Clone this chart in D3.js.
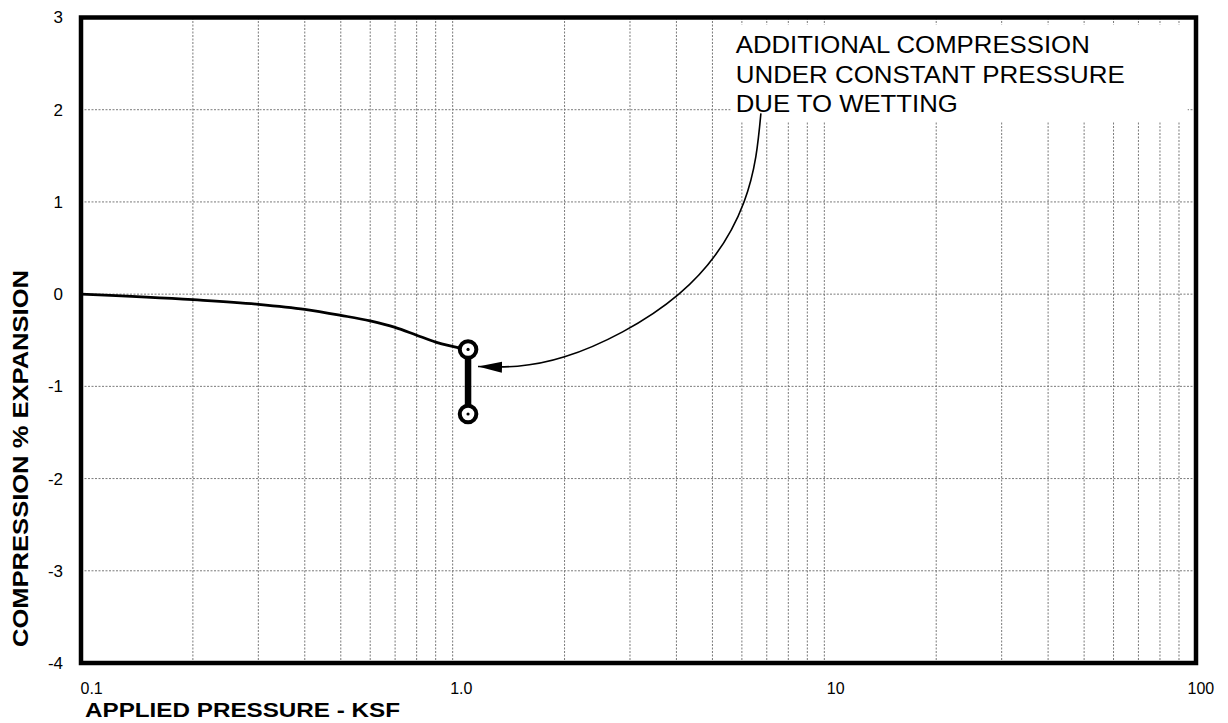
<!DOCTYPE html>
<html><head><meta charset="utf-8">
<script src="https://cdn.jsdelivr.net/npm/d3@7"></script>
<style>
html,body{margin:0;padding:0;background:#fff;}
svg{display:block;font-family:"Liberation Sans",Arial,sans-serif;}
</style></head>
<body>
<svg id="chart" width="1228" height="723"></svg>
<script>
// ---- data ----
const pressure = [0.1, 0.2, 0.3, 0.4, 0.5, 0.6, 0.7, 0.8, 0.9, 1.1];
const strain   = [0, -0.06, -0.11, -0.165, -0.23, -0.29, -0.36, -0.445, -0.52, -0.6];
const wetPressure = 1.1;
const wetStrain = [-0.6, -1.3];
const arrowPressure = [6.75, 6.08, 4.06, 2.0, 1.17];
const arrowStrain   = [1.96, 1.0, 0.0, -0.68, -0.785];
const noteLines = ["ADDITIONAL  COMPRESSION", "UNDER CONSTANT PRESSURE", "DUE TO WETTING"];
const xTickValues = [0.1, 1, 10, 100];
const xTickLabels = ["0.1", "1.0", "10", "100"];
const yTickValues = [3, 2, 1, 0, -1, -2, -3, -4];
const yTickLabels = ["3", "2", "1", "0", "-1", "-2", "-3", "-4"];
const xTitle = "APPLIED PRESSURE - KSF";
const yTitle = "COMPRESSION % EXPANSION";

// ---- layout ----
const svg = d3.select("#chart");
const L = 81, R = 1196, T = 17.5, B = 663;
const x = d3.scaleLog().domain([0.1, 100]).range([L, R]);
const y = d3.scaleLinear().domain([-4, 3]).range([B, T]);

// grid
const grid = svg.append("g").attr("stroke", "#7a7a7a").attr("stroke-width", 1).attr("stroke-dasharray", "2,1.5");
grid.selectAll("line.v").data(x.ticks().filter(d => d > 0.1 && d < 100)).join("line")
  .attr("x1", d => x(d)).attr("x2", d => x(d)).attr("y1", T).attr("y2", B);
grid.selectAll("line.h").data(yTickValues.filter(d => d > -4 && d < 3)).join("line")
  .attr("y1", d => y(d)).attr("y2", d => y(d)).attr("x1", L).attr("x2", R);

// note box (covers grid)
const boxP = [5.6, 95], boxV = [2.92, 1.87];
svg.append("rect").attr("x", x(boxP[0])).attr("y", y(boxV[0]))
  .attr("width", x(boxP[1]) - x(boxP[0])).attr("height", y(boxV[1]) - y(boxV[0]))
  .attr("fill", "#fff");
const noteWidths = [354, 389, 222];
svg.append("g").selectAll("text").data(noteLines).join("text")
  .attr("x", x(boxP[0]) + 5)
  .attr("y", (d, i) => y(boxV[0]) + 28.5 + i * 29.2)
  .style("font-size", "24px")
  .attr("textLength", (d, i) => noteWidths[i])
  .attr("lengthAdjust", "spacingAndGlyphs")
  .attr("fill", "#000")
  .text(d => d);

// arrow
const defs = svg.append("defs");
defs.append("marker").attr("id", "ah").attr("viewBox", "0 0 24 12")
  .attr("refX", 24).attr("refY", 6).attr("markerWidth", 24).attr("markerHeight", 12)
  .attr("markerUnits", "userSpaceOnUse").attr("orient", "auto")
  .append("path").attr("d", "M0,0.5 L24,6 L0,11.5 Z").attr("fill", "#000");
const arrowLine = d3.line().x(d => x(d[0])).y(d => y(d[1])).curve(d3.curveNatural);
svg.append("path").datum(arrowPressure.map((p, i) => [p, arrowStrain[i]]))
  .attr("d", arrowLine).attr("fill", "none").attr("stroke", "#000").attr("stroke-width", 1.6)
  .attr("marker-end", "url(#ah)");

// curve
const line = d3.line().x(d => x(d[0])).y(d => y(d[1])).curve(d3.curveMonotoneX);
svg.append("path").datum(pressure.map((p, i) => [p, strain[i]]))
  .attr("d", line).attr("fill", "none").attr("stroke", "#000").attr("stroke-width", 2.7);

// wetting bar
svg.append("line").attr("x1", x(wetPressure)).attr("x2", x(wetPressure))
  .attr("y1", y(wetStrain[0])).attr("y2", y(wetStrain[1]))
  .attr("stroke", "#000").attr("stroke-width", 6.5);
const circ = svg.append("g").selectAll("g").data(wetStrain).join("g");
circ.append("circle").attr("cx", x(wetPressure)).attr("cy", d => y(d)).attr("r", 8.3)
  .attr("fill", "#fff").attr("stroke", "#000").attr("stroke-width", 4);
circ.append("circle").attr("cx", x(wetPressure)).attr("cy", d => y(d)).attr("r", 1.6).attr("fill", "#000");

// frame
svg.append("rect").attr("x", L).attr("y", T).attr("width", R - L).attr("height", B - T)
  .attr("fill", "none").attr("stroke", "#000").attr("stroke-width", 4.5);

// axes
const yAxis = svg.append("g").attr("transform", `translate(${L},0)`)
  .call(d3.axisLeft(y).tickValues(yTickValues).tickSize(0).tickPadding(18)
    .tickFormat((d, i) => yTickLabels[i]));
yAxis.select(".domain").remove();
yAxis.selectAll("text").style("font-size", "17px").style("font-family", "Liberation Sans, Arial, sans-serif").attr("fill", "#000");

const xOffsets = [-1, -3, 2, -9];
const xAxis = svg.append("g").attr("transform", `translate(0,${B})`)
  .call(d3.axisBottom(x).tickValues(xTickValues).tickSize(0).tickPadding(20)
    .tickFormat((d, i) => xTickLabels[i]));
xAxis.select(".domain").remove();
xAxis.selectAll("text").style("font-size", "16px").style("font-family", "Liberation Sans, Arial, sans-serif").attr("fill", "#000")
  .attr("text-anchor", "start")
  .attr("dx", (d, i) => xOffsets[i]);

// titles
svg.append("text").attr("x", 85).attr("y", 716.5).style("font-size", "19.5px").attr("font-weight", "bold")
  .attr("textLength", 315).attr("lengthAdjust", "spacingAndGlyphs").text(xTitle);
svg.append("text").attr("transform", "translate(28,458.5) rotate(-90)").attr("text-anchor", "middle")
  .style("font-size", "22px").attr("font-weight", "bold")
  .attr("textLength", 377).attr("lengthAdjust", "spacingAndGlyphs").text(yTitle);
</script>
</body></html>
